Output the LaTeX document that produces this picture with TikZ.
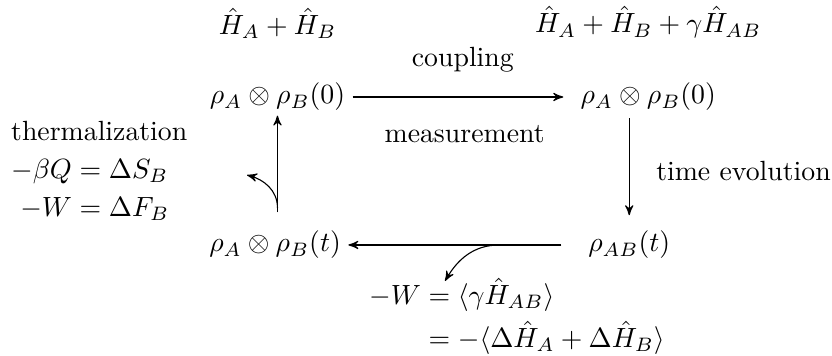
\documentclass[tikz,border=0pt]{standalone}
\usepackage{amsmath}
\usepackage{amssymb}
\usetikzlibrary{positioning,arrows,calc}
\tikzset{state node/.style={inner sep=2.5pt},
text node/.style={inner sep=1pt}}

\begin{document}
\begin{tikzpicture}[>=stealth']
\useasboundingbox (0,0) rectangle (10.525,-4.503);
\node[state node] (0) at (3.51,-1.227) {$\rho_A\otimes\rho_B(0)$};
\node[state node] (1) at (8.2,-1.227) {$\rho_A\otimes\rho_B(0)$};
\node[state node] (2) at (7.96,-3.099) {$\rho_{AB}(t)$};
\node[state node] (3) at (3.48,-3.099) {$\rho_A\otimes\rho_B(t)$};
\node[text node] (4) [above=0.43cm of 0] {$\hat H_A+\hat H_B$};
\node[text node] (5) [above=0.43cm of 1] {$\hat H_A+\hat H_B+\gamma\hat H_{AB}$};
\node[text node,anchor=west] (9) at (0.1,-2.16)
{\renewcommand{\arraystretch}{1.15}\begin{tabular}{@{}r@{}l@{}}
\multicolumn{2}{@{}l@{}}{thermalization}\\
$-\beta Q$&${}=\Delta S_B$\\
$-W$&${}=\Delta F_B$
\end{tabular}};
\node[text node] (12) at (6.54,-4.02)
{$\setlength{\jot}{1.5pt}\begin{aligned}-W&=\langle\gamma\hat H_{AB}\rangle\\ &=-\langle\Delta\hat H_A+\Delta\hat H_B\rangle\end{aligned}$};
\coordinate (10) at (3.125,-2.214);
\coordinate (11) at (5.63,-3.555);

\draw[->,shorten >=3.5pt] (0) -- node[text node,above=0.27cm] (6) {coupling} (1);
\draw[->,shorten >=3pt] (1.south -| 2.north) -- node[text node,right=0.3cm] (8) {time evolution} (2);
\draw[->,shorten <=7pt] (2) -- node[text node,above=1.25cm] (7) {measurement} (3);
\draw[->,shorten <=4pt,shorten >=-1pt] (0.south |- 3.north) -- (0.south);
\draw[->] ($(0.south |- 3.north)!0.15!(0.south)$) to[out=90,in=-15] (10);
\draw[->] ($(2.west)!0.35!(3.east)$) to[out=180,in=60] (11);
\end{tikzpicture}
\end{document}
